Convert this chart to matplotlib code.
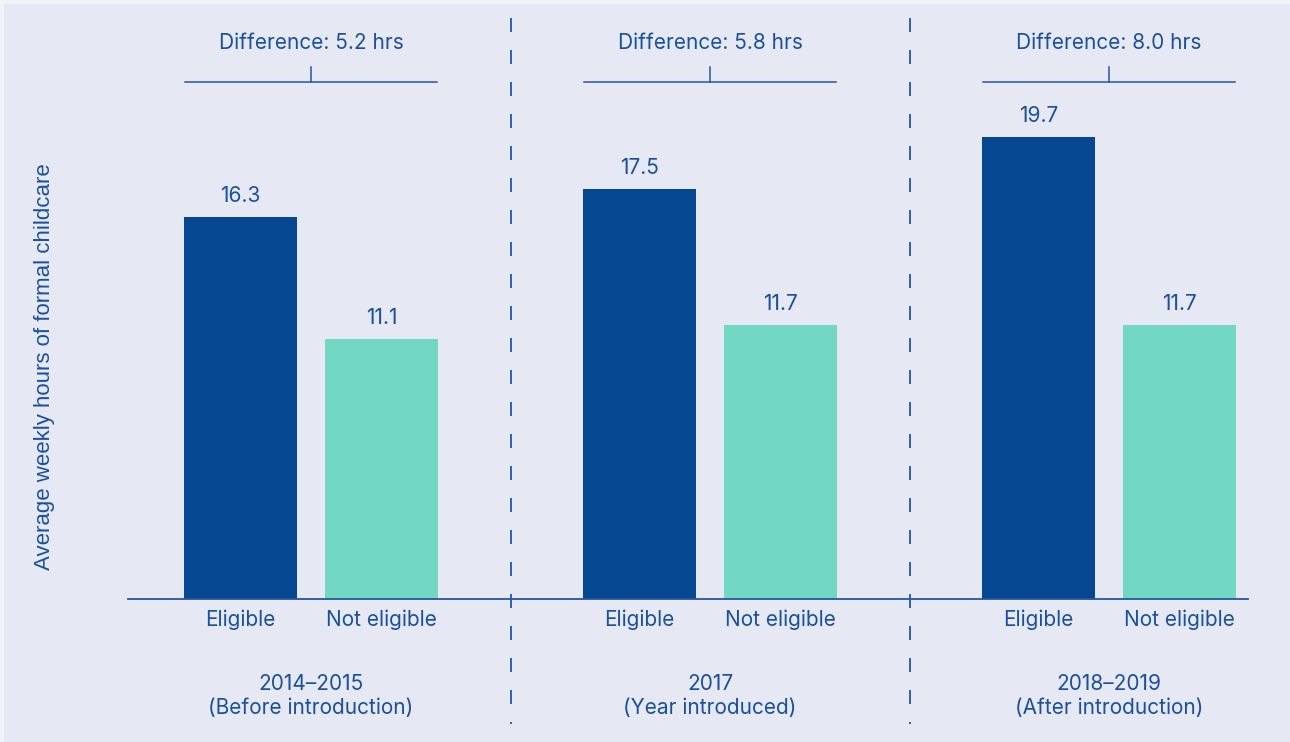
import matplotlib
matplotlib.use("Agg")
import matplotlib.pyplot as plt
from matplotlib.patches import Rectangle
from matplotlib.lines import Line2D
import matplotlib.transforms as mtransforms

# Data
periods = ["2014\u20132015\n(Before introduction)", "2017\n(Year introduced)", "2018\u20132019\n(After introduction)"]
bar_labels = ["Eligible", "Not eligible"]
eligible = [16.3, 17.5, 19.7]
not_eligible = [11.1, 11.7, 11.7]
differences = [5.2, 5.8, 8.0]

BG = "#e6e8f4"
DARK = "#064791"
TEAL = "#72d8c3"
TEXT = "#1a5199"
LINE = "#2456a0"
EDGE = "#f2f3f9"

plt.rcParams["lines.scale_dashes"] = False
W, H = 1290, 742
fig = plt.figure(figsize=(W / 100, H / 100), dpi=100)
fig.patch.set_facecolor(BG)
# light frame strips along the top and left edges
fig.patches.append(Rectangle((0, 1 - 4 / H), 1, 4 / H, transform=fig.transFigure,
                             facecolor=EDGE, edgecolor="none", zorder=-1))
fig.patches.append(Rectangle((0, 0), 4 / W, 1, transform=fig.transFigure,
                             facecolor=EDGE, edgecolor="none", zorder=-1))

px_per_group = 399.0
g0 = 311.0
base_y = 599.0
px_per_unit = 23.45
x_left, x_right = 128.0, 1248.0

ax = fig.add_axes([x_left / W, (H - base_y) / H, (x_right - x_left) / W, base_y / H])
ax.set_facecolor("none")
ax.set_xlim((x_left - g0) / px_per_group, (x_right - g0) / px_per_group)
ax.set_ylim(0, base_y / px_per_unit)
for s in ax.spines.values():
    s.set_visible(False)
ax.set_xticks([])
ax.set_yticks([])

FONT = "Inter"
offset = 70.5 / px_per_group
width = 113 / px_per_group
fs = 15

xs = list(range(len(periods)))
for i in xs:
    for j, (vals, col) in enumerate([(eligible, DARK), (not_eligible, TEAL)]):
        xc = i + (-offset if j == 0 else offset)
        v = vals[i]
        ax.bar(xc, v, width=width, color=col, zorder=2)
        ax.annotate(f"{v:.1f}", (xc, v), xytext=(0, 11), textcoords="offset pixels",
                    ha="center", va="bottom", fontsize=fs, color=TEXT, family=FONT)
        ax.annotate(bar_labels[j], (xc, 0), xytext=(0, -21), textcoords="offset pixels",
                    ha="center", va="center", fontsize=fs, color=TEXT, family=FONT,
                    annotation_clip=False)
    # period label
    ax.annotate(periods[i], (i, 0), xytext=(0, -97), textcoords="offset pixels",
                ha="center", va="center", fontsize=fs, color=TEXT, family=FONT,
                linespacing=1.3, annotation_clip=False)
    # difference bracket
    half = 126 / px_per_group
    yb = (base_y - 82) / px_per_unit
    ax.plot([i - half, i + half], [yb, yb], color=LINE, lw=1.1, clip_on=False)
    ax.plot([i, i], [yb, yb + 15 / px_per_unit], color=LINE, lw=1.1, clip_on=False)
    ax.text(i, (base_y - 43) / px_per_unit, f"Difference: {differences[i]:.1f} hrs",
            ha="center", va="center", fontsize=fs, color=TEXT, family=FONT)

# baseline
ax.plot([(x_left - g0) / px_per_group, (x_right - g0) / px_per_group], [0, 0],
        color=LINE, lw=1.3, clip_on=False, zorder=3)

# dashed separators between periods
trans = mtransforms.blended_transform_factory(ax.transData, fig.transFigure)
for xd in [0.5, 1.5]:
    ln = Line2D([xd, xd], [1 - 18 / H, 1 - 724 / H], transform=trans, color=LINE,
                lw=1.3, linestyle=(0, (14 * 0.72, 18 * 0.72)))
    fig.lines.append(ln)

fig.text(45 / W, 1 - 367 / H, "Average weekly hours of formal childcare", rotation=90,
         ha="center", va="center", fontsize=16, color=TEXT, family="Liberation Sans")

fig.savefig("out.png", dpi=100, facecolor=fig.get_facecolor())
